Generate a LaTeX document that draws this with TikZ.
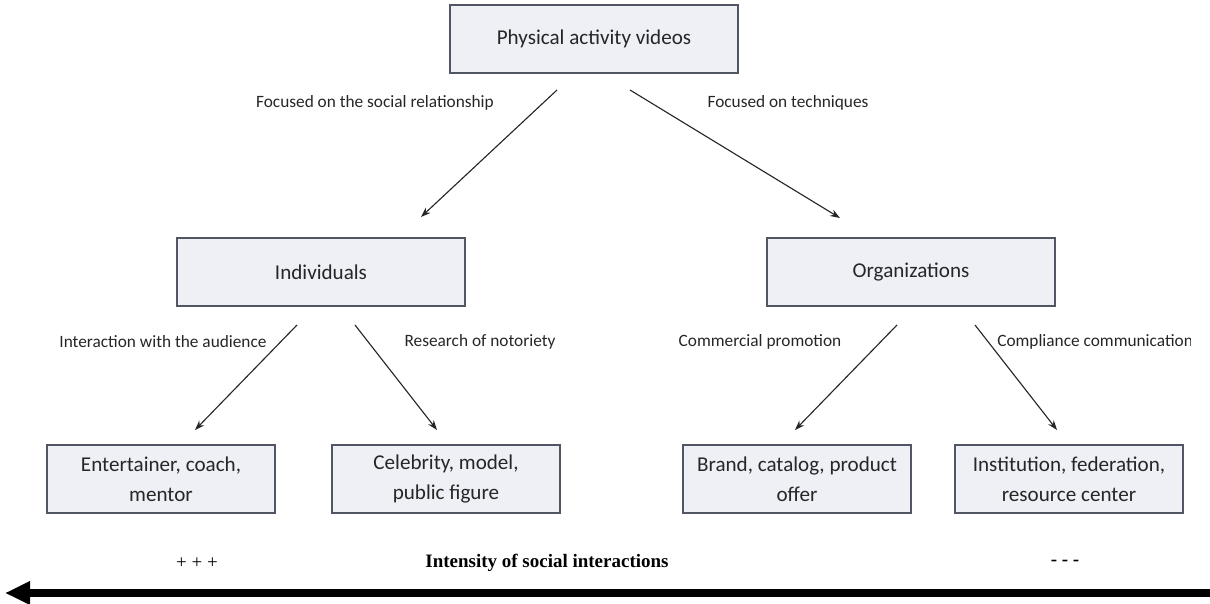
\documentclass[tikz,border=0pt]{standalone}
\usepackage{fontspec}
\setmainfont{Carlito}
\newfontfamily\timesfont{Liberation Serif}
\usetikzlibrary{arrows.meta,positioning}
\definecolor{boxfill}{RGB}{238,240,246}
\definecolor{boxline}{RGB}{80,86,100}
\definecolor{txt}{RGB}{38,38,38}

\begin{document}
\begin{tikzpicture} [x=0.025cm, y=-0.025cm,
     box/.style={draw=boxline, fill=boxfill, line width=1pt, minimum width=7.2cm, minimum height=1.7cm, align=center, text=txt, font=\fontsize{15}{21}\selectfont},
     leaf/.style={box, minimum width=5.7cm},
     lbl/.style={text=txt, font=\fontsize{12.3}{14}\selectfont, inner sep=0pt},
     link/.style={-{Stealth[length=7pt,width=5pt]}, line width=0.8pt, draw=black!85},
     axis/.style={font=\timesfont\fontsize{13.5}{16}\selectfont, inner sep=0pt}]
     \useasboundingbox (0,0) rectangle (1210,604);
     % boxes
     \node[box] (videos) at (594,39) {Physical activity videos};
     \node[box] (indiv) at (321,272) {Individuals};
     \node[box] (org) at (911,272) {Organizations};
     \node[leaf] (coach) at (161,479) {Entertainer, coach,\\mentor};
     \node[leaf] (celeb) at (446,479) {Celebrity, model,\\public figure};
     \node[leaf] (brand) at (797,479) {Brand, catalog, product\\offer};
     \node[leaf] (inst) at (1069,479) {Institution, federation,\\resource center};
     % arrow ends
     \coordinate (videosL) at (557,90);
     \coordinate (videosR) at (630,90);
     \coordinate (indivIn) at (421,217);
     \coordinate (orgIn) at (840,218);
     \coordinate (indivL) at (297,325);
     \coordinate (indivR) at (355,325);
     \coordinate (orgL) at (897,325);
     \coordinate (orgR) at (975,325);
     \coordinate (coachIn) at (195,430);
     \coordinate (celebIn) at (437,430);
     \coordinate (brandIn) at (795,430);
     \coordinate (instIn) at (1057,430);
     \draw[link] (videosL) -- (indivIn);
     \draw[link] (videosR) -- (orgIn);
     \draw[link] (indivL) -- (coachIn);
     \draw[link] (indivR) -- (celebIn);
     \draw[link] (orgL) -- (brandIn);
     \draw[link] (orgR) -- (instIn);
     % labels
     \node[lbl] (social) at (375,103) {Focused on the social relationship};
     \node[lbl] (tech) at (788,103) {Focused on techniques};
     \node[lbl] (audience) at (163,342) {Interaction with the audience};
     \node[lbl] (notoriety) at (480,342) {Research of notoriety};
     \node[lbl] (promo) at (760,342) {Commercial promotion};
     \begin{scope}
     \clip (0,0) rectangle (1190,604);
     \node[lbl, anchor=west] (comply) at (997,342) {Compliance communication};
     \end{scope}
     % intensity axis
     \node[axis] (plus) at (197,563) {+ + +};
     \node[axis, font=\timesfont\bfseries\fontsize{13.5}{16}\selectfont] (intensity) at (547,563) {Intensity of social interactions};
     \node[axis, font=\timesfont\bfseries\fontsize{13.5}{16}\selectfont] (minus) at (1065,563) {- - -};
     \coordinate (axisR) at (1210,593);
     \coordinate (axisL) at (5,593);
     \draw[line width=5.7pt, -{Triangle[length=0.625cm,width=0.55cm]}] (axisR) -- (axisL);
\end{tikzpicture}
\end{document}
